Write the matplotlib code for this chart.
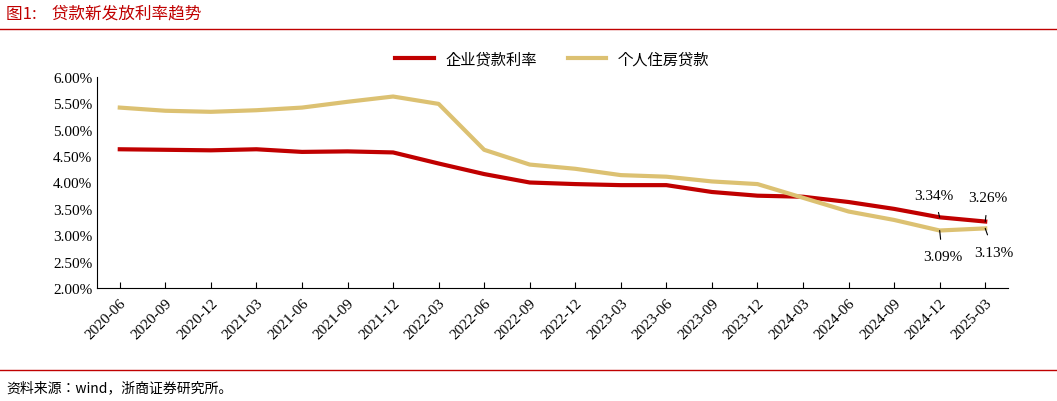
import matplotlib
matplotlib.use("Agg")
import matplotlib.pyplot as plt
from matplotlib.ticker import FuncFormatter

dates = ["2020-06","2020-09","2020-12","2021-03","2021-06","2021-09","2021-12","2022-03",
         "2022-06","2022-09","2022-12","2023-03","2023-06","2023-09","2023-12","2024-03",
         "2024-06","2024-09","2024-12","2025-03"]
corp = [4.63,4.62,4.61,4.63,4.58,4.59,4.57,4.36,4.16,4.00,3.97,3.95,3.95,3.82,3.75,3.73,3.63,3.50,3.34,3.26]
mort = [5.42,5.36,5.34,5.37,5.42,5.53,5.63,5.49,4.62,4.34,4.26,4.14,4.11,4.02,3.97,3.71,3.45,3.29,3.09,3.13]
yticks = [2.0,2.5,3.0,3.5,4.0,4.5,5.0,5.5,6.0]

cjk = ["Noto Sans CJK SC", "Noto Sans CJK JP", "DejaVu Sans"]
serif = "Liberation Serif"
red = "#C00000"
gold = "#DCC172"

fig = plt.figure(figsize=(10.57,4.02), dpi=100)
ax = fig.add_axes([97/1057, 1-289/402, 911/1057, 211/402])
x = list(range(len(dates)))
ax.plot(x, corp, color=red, lw=3, label="企业贷款利率")
ax.plot(x, mort, color=gold, lw=3, label="个人住房贷款")
ax.set_xlim(-0.5, len(dates)-0.5)
ax.set_ylim(2.0, 6.0)
ax.set_yticks(yticks)
ax.yaxis.set_major_formatter(FuncFormatter(lambda v,p: f"{v:.2f}%"))
ax.set_xticks(x)
ax.set_xticklabels(dates, rotation=45, ha="right", rotation_mode="anchor")
for lab in ax.get_xticklabels()+ax.get_yticklabels():
    lab.set_fontfamily(serif); lab.set_fontsize(11)
for s in ["top","right"]:
    ax.spines[s].set_visible(False)
ax.tick_params(axis="x", direction="in", length=4, pad=6)
ax.tick_params(axis="y", direction="out", length=0)
ax.legend(loc="lower center", bbox_to_anchor=(0.5, 0.98), ncol=2, frameon=False,
          prop={"family": cjk, "size": 11}, handlelength=2.5, columnspacing=2)

n = len(dates)-1
def ann(xi, yi, txt, tx, ty):
    ax.annotate(txt, xy=(xi, yi), xytext=(tx, ty), textcoords="offset points",
                ha="center", va="center", fontfamily=serif, fontsize=11,
                arrowprops=dict(arrowstyle="-", color="black", lw=0.8, shrinkA=6, shrinkB=0))
ann(n-1, corp[n-1], f"{corp[n-1]:.2f}%", -4, 16)
ann(n, corp[n], f"{corp[n]:.2f}%", 2, 17)
ann(n-1, mort[n-1], f"{mort[n-1]:.2f}%", 2, -19)
ann(n, mort[n], f"{mort[n]:.2f}%", 6, -17)

fig.text(6/1057, 1-14/402, "图1:    贷款新发放利率趋势", color=red, fontfamily=cjk, fontsize=12, va="center")
fig.add_artist(plt.Line2D([0,1],[1-30/402]*2, color=red, lw=1))
fig.add_artist(plt.Line2D([0,1],[1-371/402]*2, color=red, lw=1))
fig.text(6/1057, 1-388/402, "资料来源：wind，浙商证券研究所。", fontfamily=cjk, fontsize=10, va="center")
fig.savefig("out.png", dpi=100)
